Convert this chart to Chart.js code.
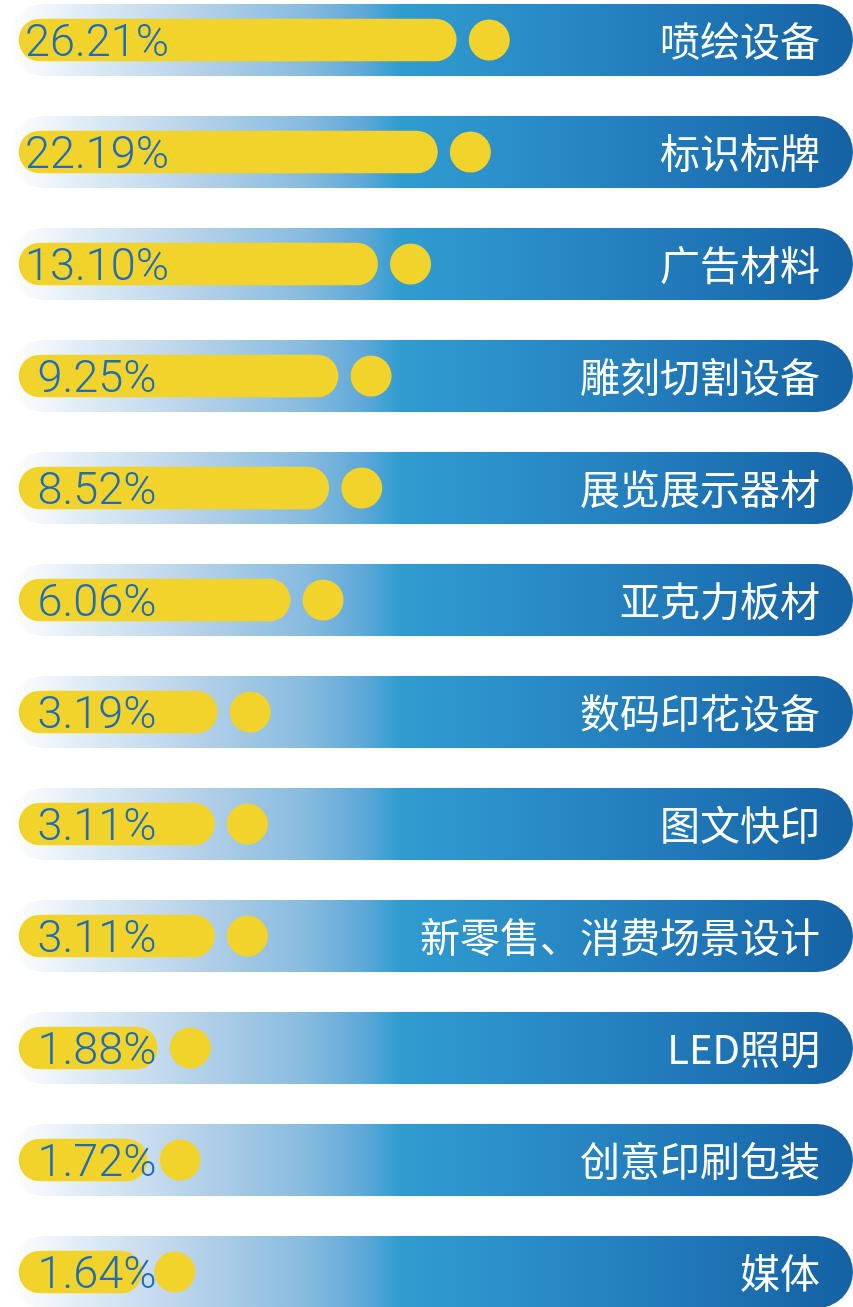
<!DOCTYPE html>
<html>
<head>
<meta charset="utf-8">
<script src="https://cdn.jsdelivr.net/npm/chart.js@4"></script>
<style>
  html, body { margin: 0; padding: 0; background: #ffffff; }
  #wrap { width: 853px; height: 1307px; position: relative; }
</style>
</head>
<body>
<div id="wrap"><canvas id="shareChart"></canvas></div>
<script>
const categories = [
    '喷绘设备',
    '标识标牌',
    '广告材料',
    '雕刻切割设备',
    '展览展示器材',
    '亚克力板材',
    '数码印花设备',
    '图文快印',
    '新零售、消费场景设计',
    'LED照明',
    '创意印刷包装',
    '媒体'
];
const shares = [26.21, 22.19, 13.10, 9.25, 8.52, 6.06, 3.19, 3.11, 3.11, 1.88, 1.72, 1.64];

const YELLOW = '#f2d32b';

// blue band behind every row
const rowBands = {
    id: 'rowBands',
    beforeDatasetsDraw(chart) {
        const ctx = chart.ctx;
        const yScale = chart.scales.y;
        const x0 = 8, x1 = chart.width, h = 72, r = 36;
        categories.forEach((c, i) => {
            const y = yScale.getPixelForValue(i);
            const g = ctx.createLinearGradient(x0, 0, x1, 0);
            g.addColorStop(0, '#ffffff');
            g.addColorStop(0.11, '#d9e7f4');
            g.addColorStop(0.23, '#b3d0e9');
            g.addColorStop(0.35, '#88bbe0');
            g.addColorStop(0.42, '#5ea8d8');
            g.addColorStop(0.465, '#2f9cd0');
            g.addColorStop(0.62, '#2a8cc7');
            g.addColorStop(0.82, '#1f76b6');
            g.addColorStop(1, '#1461a3');
            ctx.save();
            ctx.fillStyle = g;
            ctx.beginPath();
            ctx.roundRect(x0, y - h / 2, x1 - x0, h, r);
            ctx.fill();
            ctx.restore();
        });
    }
};

// dot after each bar, value text and category name
const rowDecor = {
    id: 'rowDecor',
    afterDatasetsDraw(chart) {
        const ctx = chart.ctx;
        const meta = chart.getDatasetMeta(0);
        const area = chart.chartArea;
        ctx.save();
        meta.data.forEach((bar, i) => {
            ctx.fillStyle = YELLOW;
            ctx.beginPath();
            ctx.arc(bar.x + 33, bar.y, 20.5, 0, Math.PI * 2);
            ctx.fill();

            ctx.fillStyle = '#1f6db6';
            ctx.font = '300 45px Roboto, "Open Sans", sans-serif';
            ctx.textAlign = 'center';
            ctx.textBaseline = 'alphabetic';
            ctx.fillText(shares[i].toFixed(2) + '%', area.left + 78, bar.y + 16);

            ctx.fillStyle = '#ffffff';
            ctx.font = '40px "Noto Sans CJK SC", sans-serif';
            ctx.textAlign = 'right';
            ctx.textBaseline = 'middle';
            ctx.fillText(categories[i], chart.width - 33, bar.y + 1);
        });
        ctx.restore();
    }
};

const ctxShare = document.getElementById('shareChart').getContext('2d');
const shareChart = new Chart(ctxShare, {
    type: 'bar',
    data: {
        labels: categories,
        datasets: [{
            data: shares,
            backgroundColor: YELLOW,
            borderRadius: 21,
            borderSkipped: false,
            barThickness: 42,
            clip: false
        }]
    },
    options: {
        indexAxis: 'y',
        responsive: true,
        maintainAspectRatio: false,
        animation: false,
        layout: {
            padding: { left: 19, right: 1, top: 40, bottom: 35 }
        },
        scales: {
            x: { type: 'logarithmic', min: 0.556, max: 857, display: false },
            y: { offset: false, display: false }
        },
        plugins: {
            legend: { display: false },
            tooltip: { enabled: false }
        }
    },
    plugins: [rowBands, rowDecor]
});
</script>
</body>
</html>
